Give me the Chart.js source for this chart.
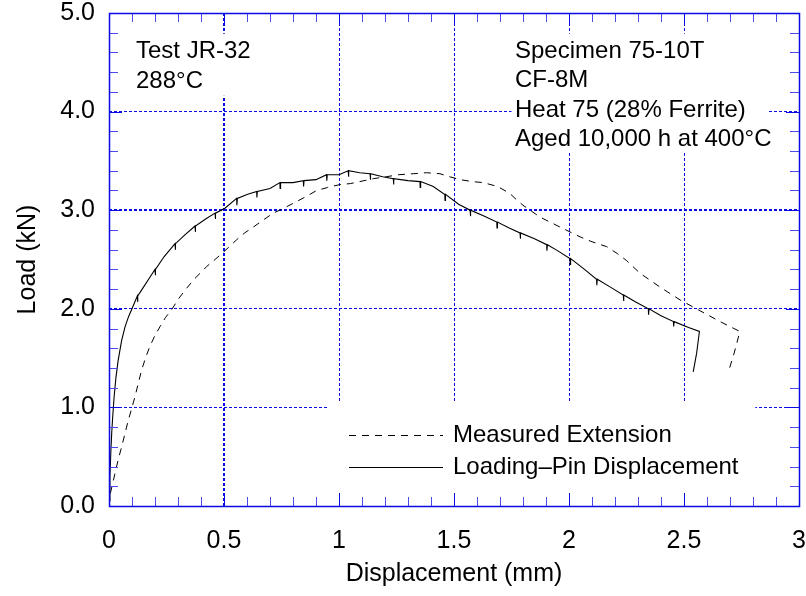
<!DOCTYPE html>
<html>
<head>
<meta charset="utf-8">
<script src="https://cdn.jsdelivr.net/npm/chart.js@4"></script>
<style>
  html, body { margin: 0; padding: 0; background: #fff; }
  #wrap { width: 806px; height: 596px; position: relative; }
</style>
</head>
<body>
<div id="wrap"><canvas id="loadChart"></canvas></div>
<script>
// ==========================================
// DATA
// ==========================================
const xTickLabels = ['0', '0.5', '1', '1.5', '2', '2.5', '3'];
const yTickLabels = ['0.0', '1.0', '2.0', '3.0', '4.0', '5.0'];

// Loading-pin displacement (solid), with the small unloading spikes
const pinDisp = [0.000, 0.004, 0.008, 0.012, 0.016, 0.022, 0.030, 0.040, 0.055, 0.070, 0.085, 0.100,
  0.123, 0.124, 0.126, 0.150, 0.175, 0.200, 0.201, 0.203, 0.240, 0.287, 0.288, 0.290, 0.330,
  0.374, 0.375, 0.377, 0.420, 0.461, 0.462, 0.464, 0.504, 0.555, 0.556, 0.558, 0.600,
  0.642, 0.643, 0.645, 0.700, 0.743, 0.744, 0.746, 0.800, 0.845, 0.846, 0.848, 0.900,
  0.946, 0.947, 0.949, 1.000, 1.040, 1.041, 1.043, 1.090, 1.135, 1.136, 1.138, 1.190,
  1.236, 1.237, 1.239, 1.300, 1.352, 1.353, 1.355, 1.410, 1.460, 1.461, 1.463, 1.520,
  1.570, 1.571, 1.573, 1.630, 1.686, 1.687, 1.689, 1.740, 1.787, 1.788, 1.790, 1.850,
  1.903, 1.904, 1.906, 1.950, 2.004, 2.005, 2.007, 2.062, 2.120, 2.121, 2.123, 2.180,
  2.236, 2.237, 2.239, 2.290, 2.345, 2.346, 2.348, 2.400, 2.454, 2.455, 2.457, 2.520,
  2.567, 2.555, 2.540];
const pinLoad = [0.05, 0.30, 0.55, 0.75, 0.90, 1.10, 1.30, 1.48, 1.68, 1.82, 1.92, 2.00,
  2.13, 2.07, 2.13, 2.22, 2.31, 2.40, 2.34, 2.40, 2.53, 2.66, 2.60, 2.66, 2.75,
  2.84, 2.78, 2.84, 2.91, 2.97, 2.91, 2.97, 3.02, 3.12, 3.05, 3.12, 3.16,
  3.19, 3.13, 3.19, 3.22, 3.28, 3.22, 3.28, 3.28, 3.30, 3.24, 3.30, 3.31,
  3.36, 3.30, 3.36, 3.36, 3.40, 3.34, 3.40, 3.38, 3.37, 3.31, 3.37, 3.34,
  3.32, 3.26, 3.32, 3.30, 3.29, 3.23, 3.29, 3.24, 3.16, 3.10, 3.16, 3.06,
  3.00, 2.94, 3.00, 2.94, 2.88, 2.82, 2.88, 2.82, 2.77, 2.71, 2.77, 2.71,
  2.65, 2.59, 2.65, 2.59, 2.51, 2.45, 2.51, 2.41, 2.30, 2.24, 2.30, 2.22,
  2.14, 2.08, 2.14, 2.07, 2.00, 1.94, 2.00, 1.93, 1.87, 1.82, 1.87, 1.81,
  1.77, 1.55, 1.36];

// Measured extension (dashed)
const extDisp = [0.000, 0.004, 0.015, 0.026, 0.040, 0.055, 0.070, 0.084, 0.100, 0.113, 0.128,
  0.142, 0.160, 0.178, 0.200, 0.222, 0.245, 0.272, 0.305, 0.338, 0.370, 0.396, 0.425,
  0.461, 0.500, 0.555, 0.590, 0.628, 0.670, 0.714, 0.760, 0.801, 0.850, 0.903, 0.950,
  1.004, 1.050, 1.090, 1.150, 1.207, 1.260, 1.323, 1.380, 1.439, 1.480, 1.526, 1.580,
  1.627, 1.690, 1.743, 1.770, 1.800, 1.874, 1.960, 2.048, 2.100, 2.164, 2.210, 2.250,
  2.309, 2.396, 2.483, 2.562, 2.657, 2.743, 2.718, 2.693];
const extLoad = [0.00, 0.11, 0.22, 0.33, 0.47, 0.60, 0.74, 0.87, 1.00, 1.11, 1.25,
  1.38, 1.51, 1.62, 1.73, 1.82, 1.91, 1.99, 2.11, 2.21, 2.30, 2.36, 2.43,
  2.50, 2.58, 2.70, 2.77, 2.83, 2.90, 2.97, 3.02, 3.07, 3.13, 3.20, 3.23,
  3.26, 3.27, 3.29, 3.32, 3.34, 3.36, 3.37, 3.38, 3.37, 3.34, 3.31, 3.29,
  3.28, 3.24, 3.17, 3.11, 3.05, 2.93, 2.83, 2.73, 2.68, 2.63, 2.56, 2.49,
  2.36, 2.22, 2.09, 1.99, 1.87, 1.77, 1.55, 1.36];

const seriesNames = ['Measured Extension', 'Loading\u2013Pin Displacement'];
const noteLeft = ['Test JR-32', '288\u00B0C'];
const noteRight = ['Specimen 75-10T', 'CF-8M', 'Heat 75 (28% Ferrite)', 'Aged 10,000 h at 400\u00B0C'];

// ==========================================
// STYLE / LAYOUT
// ==========================================
const FONT = '"Liberation Sans", Arial, sans-serif';
const BLUE = '#0a0ae6';
const MINOR_BLUE = '#4b4bf0';

// white areas where the grid is left out (in data units)
const gridGaps = [
  { x0: 0.09, x1: 0.66, y0: 4.16, y1: 4.79 },
  { x0: 1.75, x1: 2.865, y0: 3.58, y1: 4.79 },
  { x0: 0.952, x1: 2.81, y0: 0.15, y1: 1.045 }
];

function toPoints(xs, ys) {
  return xs.map((x, i) => ({ x: x, y: ys[i] }));
}

const frameTicks = {
  id: 'frameTicks',
  beforeDatasetsDraw(chart) {
    const { ctx, scales: { x, y } } = chart;
    ctx.save();
    ctx.fillStyle = '#fff';
    gridGaps.forEach(g => {
      const l = x.getPixelForValue(g.x0), r = x.getPixelForValue(g.x1);
      const t = y.getPixelForValue(g.y1), b = y.getPixelForValue(g.y0);
      ctx.fillRect(l, t, r - l, b - t);
    });
    ctx.restore();
  },
  afterDatasetsDraw(chart) {
    const { ctx, chartArea: a, scales: { x, y } } = chart;
    ctx.save();
    ctx.lineWidth = 1;
    // minor / major ticks pointing inward on all four sides
    for (let i = 1; i < 30; i++) {
      const px = Math.round(x.getPixelForValue(i / 10)) + 0.5;
      const major = i % 5 === 0;
      const len = major ? 13 : 9;
      ctx.strokeStyle = major ? BLUE : MINOR_BLUE;
      ctx.beginPath();
      ctx.moveTo(px, a.bottom); ctx.lineTo(px, a.bottom - len);
      ctx.moveTo(px, a.top); ctx.lineTo(px, a.top + len);
      ctx.stroke();
    }
    for (let i = 1; i < 25; i++) {
      const py = Math.round(y.getPixelForValue(i / 5)) + 0.5;
      const major = i % 5 === 0;
      const len = major ? 13 : 9;
      ctx.strokeStyle = major ? BLUE : MINOR_BLUE;
      ctx.beginPath();
      ctx.moveTo(a.left, py); ctx.lineTo(a.left + len, py);
      ctx.moveTo(a.right, py); ctx.lineTo(a.right - len, py);
      ctx.stroke();
    }
    // frame
    ctx.strokeStyle = BLUE;
    ctx.lineWidth = 1.5;
    ctx.strokeRect(Math.round(a.left) + 0.5, Math.round(a.top) + 0.5,
      Math.round(a.right - a.left), Math.round(a.bottom - a.top));

    // notes
    ctx.fillStyle = '#000';
    ctx.font = '24px ' + FONT;
    ctx.textBaseline = 'middle';
    ctx.textAlign = 'left';
    noteLeft.forEach((t, i) => ctx.fillText(t, 136, 51 + i * 30));
    noteRight.forEach((t, i) => ctx.fillText(t, 515, 51 + i * 29.6));

    // legend
    const rows = [435, 467];
    chart.data.datasets.forEach((ds, i) => {
      ctx.strokeStyle = '#000';
      ctx.lineWidth = 1;
      ctx.setLineDash(ds.borderDash || []);
      ctx.beginPath();
      ctx.moveTo(349, rows[i] + 0.5);
      ctx.lineTo(443, rows[i] + 0.5);
      ctx.stroke();
      ctx.setLineDash([]);
      ctx.fillText(ds.label, 453, rows[i]);
    });
    ctx.restore();
  }
};

const chart = new Chart(document.getElementById('loadChart'), {
  type: 'line',
  data: {
    datasets: [
      {
        label: seriesNames[0],
        data: toPoints(extDisp, extLoad),
        borderColor: '#000',
        borderWidth: 1,
        borderDash: [7, 6],
        pointRadius: 0,
        tension: 0,
        fill: false
      },
      {
        label: seriesNames[1],
        data: toPoints(pinDisp, pinLoad),
        borderColor: '#000',
        borderWidth: 1.1,
        pointRadius: 0,
        tension: 0,
        fill: false
      }
    ]
  },
  options: {
    responsive: true,
    maintainAspectRatio: false,
    animation: false,
    events: [],
    layout: { padding: { top: 13, right: 7, left: 0, bottom: 0 } },
    plugins: { legend: { display: false }, tooltip: { enabled: false } },
    scales: {
      x: {
        type: 'linear',
        min: 0, max: 3,
        afterFit: s => { s.height = 90; s.paddingLeft = 0; s.paddingRight = 0; },
        grid: {
          drawTicks: false,
          color: c => (c.tick && (c.tick.value === 0 || c.tick.value === 3)) ? 'rgba(0,0,0,0)' : BLUE,
          lineWidth: c => (c.tick && c.tick.value === 0.5) ? 2 : 1
        },
        border: { display: false, dash: [3, 2] },
        ticks: {
          stepSize: 0.5,
          padding: 20,
          color: '#000',
          font: { family: FONT, size: 25 },
          maxRotation: 0,
          callback: (v, i) => xTickLabels[i]
        },
        title: {
          display: true,
          text: 'Displacement (mm)',
          color: '#000',
          font: { family: FONT, size: 25 },
          padding: { top: 0, bottom: 7 }
        }
      },
      y: {
        type: 'linear',
        min: 0, max: 5,
        afterFit: s => { s.width = 109; s.paddingTop = 0; s.paddingBottom = 0; },
        grid: {
          drawTicks: false,
          color: c => (c.tick && (c.tick.value === 0 || c.tick.value === 5)) ? 'rgba(0,0,0,0)' : BLUE,
          lineWidth: c => (c.tick && c.tick.value === 3) ? 2 : 1
        },
        border: { display: false, dash: [3, 2] },
        ticks: {
          stepSize: 1,
          padding: 14,
          color: '#000',
          font: { family: FONT, size: 25 },
          callback: (v, i) => yTickLabels[i]
        },
        title: {
          display: true,
          text: 'Load (kN)',
          color: '#000',
          font: { family: FONT, size: 25 },
          padding: { top: 13, bottom: 0 }
        }
      }
    }
  },
  plugins: [frameTicks]
});
</script>
</body>
</html>
